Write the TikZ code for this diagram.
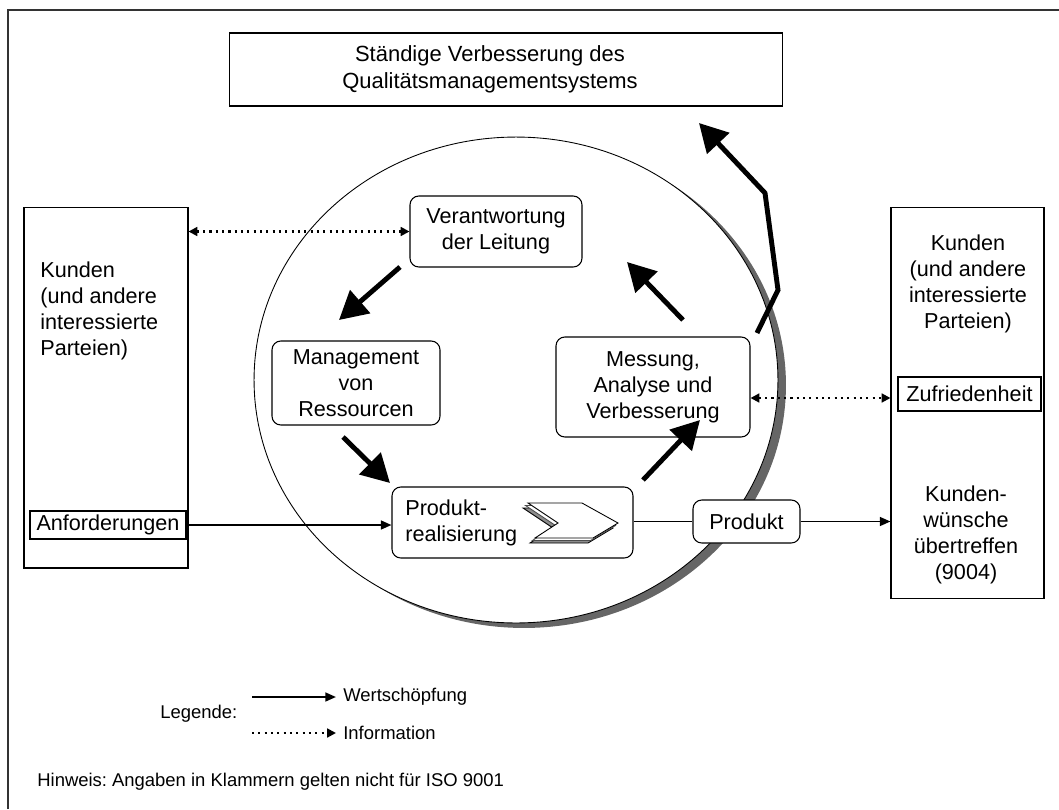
\documentclass[tikz,border=0pt]{standalone}
\usepackage{fontspec}
\setmainfont{Liberation Sans}
\usetikzlibrary{arrows.meta,calc}
\newcommand\mfont{\fontsize{12.3}{14.7}\selectfont}
\newcommand\tfont{\fontsize{12.5}{15.3}\selectfont}
\newcommand\sfont{\fontsize{10.5}{12}\selectfont}
\tikzset{
  box/.style={draw=black, line width=0.6pt, fill=white, inner sep=0pt},
  rbox/.style={box, rounded corners=5pt},
  txt/.style={inner sep=0pt, font=\mfont, align=center},
  bigarr/.style={line width=2.8pt, line join=miter, -{Triangle[length=16pt,width=17pt]}},
  flowarr/.style={line width=1.1pt, -{Triangle[length=6pt,width=5pt]}},
  flowline/.style={line width=1.1pt},
  infoarr/.style={line width=1.2pt, dash pattern=on 1.2pt off 2.4pt, {Triangle[length=5pt,width=5pt]}-{Triangle[length=5pt,width=5pt]}},
  infoone/.style={line width=1.2pt, dash pattern=on 1.2pt off 2.4pt, -{Triangle[length=5pt,width=5pt]}},
  chev/.style={line width=0.5pt}
}
\begin{document}
\begin{tikzpicture}[x=0.02cm,y=-0.02cm]
\useasboundingbox (0,0) rectangle (1059,809);
% outer frame
\draw[line width=0.9pt, black!80] (8,809) -- (8,10) -- (1059,10);

% ellipse with shadow
\fill[black!60] (524,385) ellipse [x radius=5.24cm, y radius=4.86cm];
\draw[line width=0.5pt, fill=white] (516,380) ellipse [x radius=5.24cm, y radius=4.86cm];

% top box
\node[box, minimum width=11.06cm, minimum height=1.46cm] (top) at (506,69.5) {};
\node[txt, font=\tfont] (toptxt) at (490,69) {Ständige Verbesserung des\\Qualitätsmanagementsystems};

% left customer box
\node[box, minimum width=3.28cm, minimum height=7.22cm] (kl) at (106,387.5) {};
\node[txt, align=left, anchor=west] (kltxt) at (40,311) {Kunden\\(und andere\\interessierte\\Parteien)};
\node[box, minimum width=3.12cm, minimum height=0.56cm] (anf) at (108,525) {};
\node[txt] (anftxt) at (108,525) {Anforderungen};

% right customer box
\node[box, minimum width=3.06cm, minimum height=7.84cm] (kr) at (967.5,403) {};
\node[txt] (krtxt) at (968,284) {Kunden\\(und andere\\interessierte\\Parteien)};
\node[box, minimum width=2.86cm, minimum height=0.68cm] (zuf) at (969.5,394) {};
\node[txt] (zuftxt) at (969.5,394) {Zufriedenheit};
\node[txt] (kwtxt) at (966,535) {Kunden-\\wünsche\\übertreffen\\(9004)};

% process boxes
\node[rbox, minimum width=3.44cm, minimum height=1.42cm] (ver) at (496,231.5) {};
\node[txt] (vertxt) at (496,231.5) {Verantwortung\\der Leitung};
\node[rbox, minimum width=3.36cm, minimum height=1.68cm] (man) at (356,383) {};
\node[txt] (mantxt) at (356,383) {Management\\von\\Ressourcen};
\node[rbox, minimum width=3.88cm, minimum height=2.0cm] (mes) at (653,387) {};
\node[txt] (mestxt) at (653,387) {Messung,\\Analyse und\\Verbesserung};
\node[rbox, minimum width=4.82cm, minimum height=1.42cm] (pr) at (512.5,522.5) {};
\node[txt, align=left, anchor=west] (prtxt) at (405,522.5) {Produkt-\\realisierung};
\node[rbox, minimum width=2.14cm, minimum height=0.86cm] (prod) at (746.5,521.5) {};
\node[txt] (prodtxt) at (746.5,521.5) {Produkt};

% chevron icon
\begin{scope}[shift={(pr.center)}]
  \foreach \d/\fc/\dc in {5/black!45/black, 2.5/white/black!70, 0/white/black}{
    \draw[chev, fill=\fc, draw=\dc, shift={(-\d,\d)}]
      (15.5,-19.5) -- (69.5,-19.5) -- (105.5,0.5) -- (80.5,15.5) -- (22.5,15.5) -- (45.5,0.5) -- cycle;
  }
\end{scope}

% cycle arrows
\coordinate (a1s) at (400,267); \coordinate (a1e) at (339,320);
\coordinate (a2s) at (343,437); \coordinate (a2e) at (390,483);
\coordinate (a3s) at (643,480); \coordinate (a3e) at (700,420);
\coordinate (a4s) at (683,320); \coordinate (a4e) at (627,262);
\draw[bigarr] (a1s) -- (a1e);
\draw[bigarr] (a2s) -- (a2e);
\draw[bigarr] (a3s) -- (a3e);
\draw[bigarr] (a4s) -- (a4e);

% improvement zigzag arrow
\coordinate (z0) at (757,333);
\coordinate (z1) at (778,290);
\coordinate (z2) at (765,193);
\coordinate (z3) at (699,123);
\draw[bigarr] (z0) -- (z1) -- (z2) -- (z3);

% flows
\draw[flowarr] (anf.east) -- (anf.east -| pr.west);
\draw[flowline] (pr.east |- prod.west) -- (prod.west);
\draw[flowarr] (prod.east) -- (prod.east -| kr.west);
\draw[infoarr] (kl.east |- ver.west) -- (ver.west);
\draw[infoarr] ($(mes.east)+(0,11)$) -- ($(mes.east -| kr.west)+(0,11)$);

% legend
\node[txt, font=\sfont, anchor=west] (leg) at (160,714) {Legende:};
\node[txt, font=\sfont, anchor=west] (wert) at (343,697) {Wertschöpfung};
\node[txt, font=\sfont, anchor=west] (info) at (343,733) {Information};
\coordinate (lw) at (252,697);
\coordinate (li) at (252,733);
\draw[flowarr] (lw) -- ([xshift=-4pt]wert.west);
\draw[infoone] (li) -- ([xshift=-4pt]info.west);

\node[txt, font=\sfont, anchor=west] (hinw) at (37,782) {\frenchspacing Hinweis: Angaben in Klammern gelten nicht für ISO 9001};
\end{tikzpicture}
\end{document}
